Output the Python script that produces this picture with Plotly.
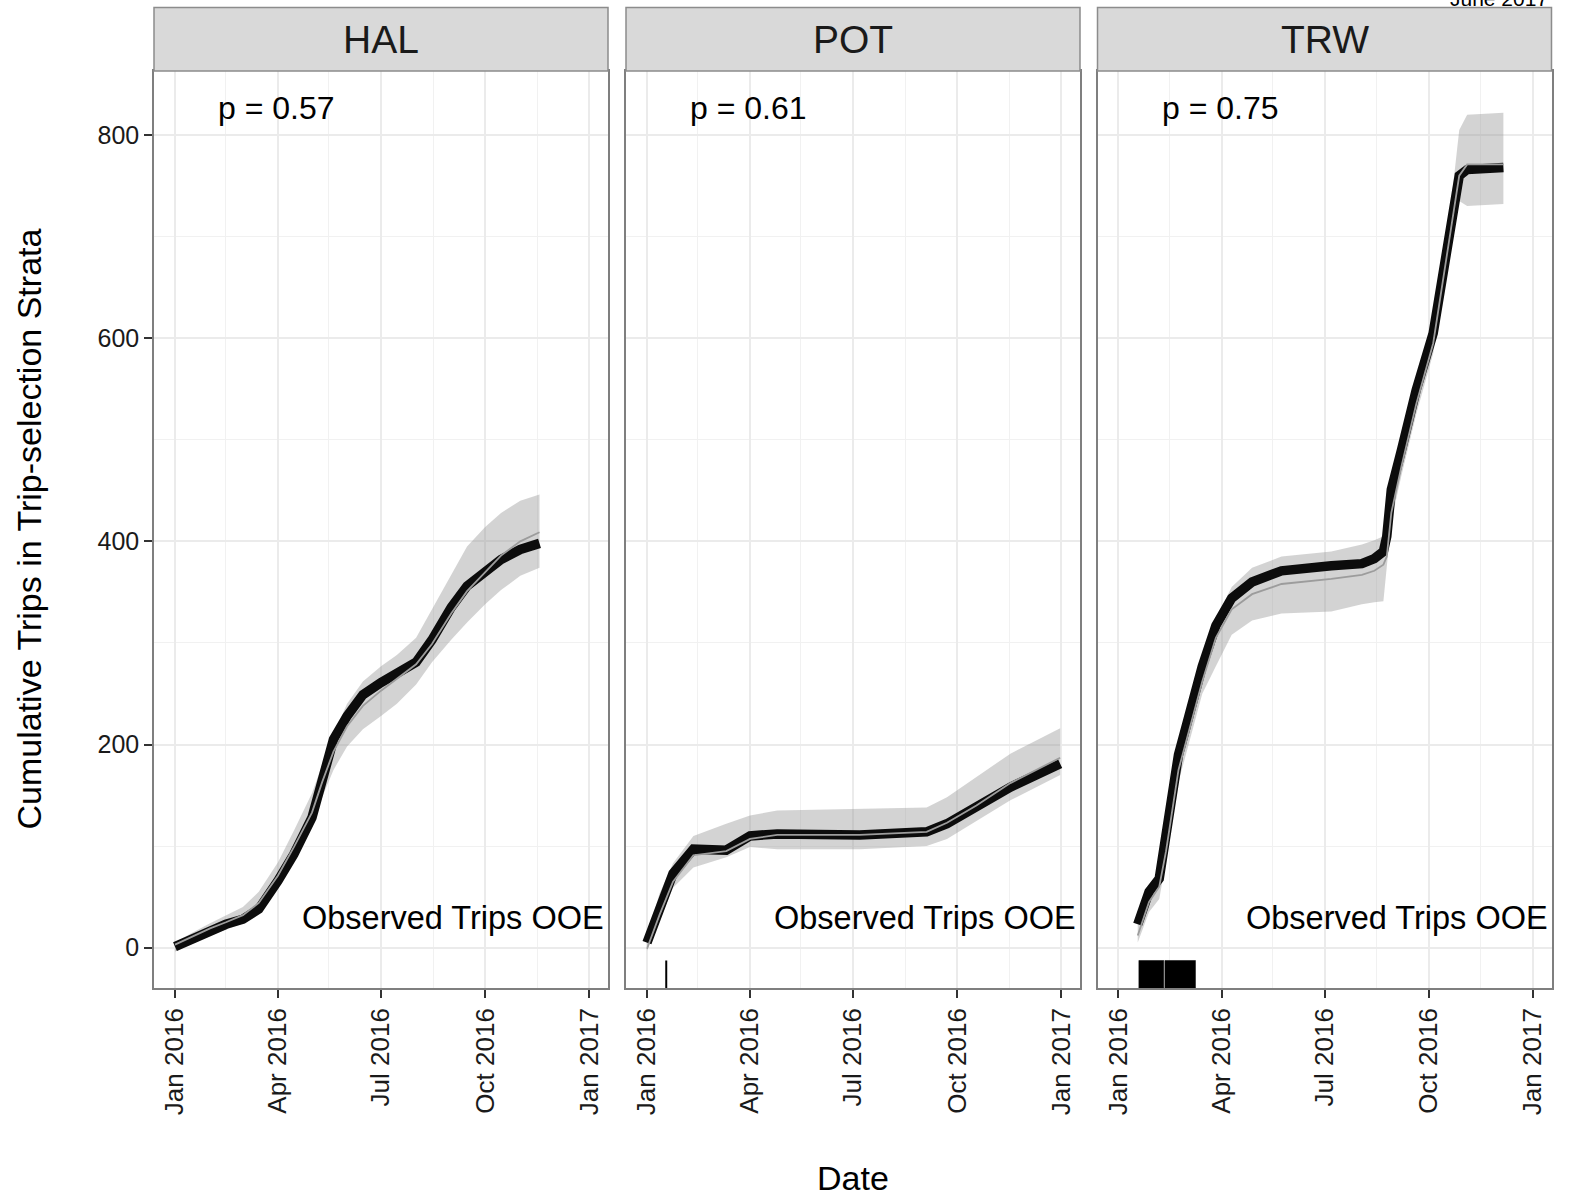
import plotly.graph_objects as go

# ---------------- data ----------------
panels = ["HAL", "POT", "TRW"]
p_labels = ["p = 0.57", "p = 0.61", "p = 0.75"]

hal_dates = ['2016-01-01','2016-01-15','2016-02-01','2016-02-15','2016-03-01','2016-03-15',
             '2016-04-01','2016-04-15','2016-05-01','2016-05-10','2016-05-20','2016-06-01',
             '2016-06-15','2016-07-01','2016-07-15','2016-08-01','2016-08-15','2016-09-01',
             '2016-09-15','2016-10-01','2016-10-15','2016-11-01','2016-11-18']
hal_obs   = [1, 8, 17, 23, 28, 38, 66, 92, 128, 165, 205, 228, 249, 261, 270, 281, 303, 335, 356, 370, 382, 392, 398]
hal_exp   = [3, 10, 19, 25, 32, 44, 71, 99, 133, 163, 193, 218, 238, 253, 265, 279, 299, 329, 351, 370, 386, 400, 409]
hal_upper = [5, 14, 24, 32, 40, 55, 84, 115, 152, 180, 210, 240, 262, 277, 288, 305, 333, 368, 395, 414, 428, 440, 446]
hal_lower = [-4, 4, 12, 18, 24, 34, 58, 86, 118, 148, 175, 198, 215, 228, 240, 259, 281, 303, 320, 338, 352, 366, 374]

pot_dates = ['2016-01-01','2016-01-12','2016-01-24','2016-02-11','2016-03-11','2016-04-01',
             '2016-04-25','2016-07-07','2016-09-04','2016-09-22','2016-10-18','2016-11-17','2016-12-31']
pot_obs   = [5, 40, 73, 97, 96, 110, 112, 111, 114, 122, 138, 158, 181]
pot_exp   = [-1, 32, 65, 91, 95, 107, 111, 111, 114, 123, 140, 162, 187]
pot_upper = [10, 53, 83, 110, 122, 130, 135, 137, 138, 148, 168, 191, 216]
pot_lower = [-3, 27, 59, 79, 89, 99, 97, 97, 100, 107, 125, 145, 170]

trw_dates = ['2016-01-18','2016-01-28','2016-02-06','2016-02-12','2016-02-23','2016-03-03',
             '2016-03-15','2016-03-27','2016-04-10','2016-04-28','2016-05-24','2016-07-07',
             '2016-08-03','2016-08-14','2016-08-22','2016-08-25','2016-08-29','2016-09-07',
             '2016-09-20','2016-10-05','2016-10-20','2016-10-28','2016-11-04','2016-12-06']
trw_obs   = [23, 55, 68, 109, 190, 227, 277, 317, 344, 360, 371, 376, 378, 383, 390, 405, 451, 490, 549, 605, 707, 760, 766, 768]
trw_exp   = [12, 45, 60, 95, 175, 212, 262, 305, 333, 348, 358, 363, 367, 371, 377, 385, 428, 474, 535, 595, 700, 760, 771, 771]
trw_upper = [32, 62, 75, 120, 197, 238, 283, 324, 355, 374, 385, 390, 397, 401, 405, 420, 455, 500, 560, 620, 725, 805, 820, 822]
trw_lower = [5, 35, 48, 85, 163, 200, 250, 277, 308, 322, 329, 331, 338, 340, 341, 375, 420, 465, 525, 585, 690, 735, 730, 732]

# observed-trip OOE rug marks (single dates and date intervals)
pot_ooe_dates = ['2016-01-18']
trw_ooe_spans = [('2016-01-19', '2016-02-10'), ('2016-02-11', '2016-03-09')]

x_tickvals = ['2016-01-01', '2016-04-01', '2016-07-01', '2016-10-01', '2017-01-01']
x_ticktext = ['Jan 2016', 'Apr 2016', 'Jul 2016', 'Oct 2016', 'Jan 2017']
x_minor = ['2016-02-15', '2016-05-16', '2016-08-16', '2016-11-16']
y_tickvals = [0, 200, 400, 600, 800]
y_minor = [100, 300, 500, 700]

series = {
    "HAL": (hal_dates, hal_obs, hal_exp, hal_upper, hal_lower),
    "POT": (pot_dates, pot_obs, pot_exp, pot_upper, pot_lower),
    "TRW": (trw_dates, trw_obs, trw_exp, trw_upper, trw_lower),
}

# ---------------- layout geometry ----------------
W, H = 1569, 1202
FONT = "Liberation Sans, Arial, sans-serif"
panel_px = [(154, 608), (626, 1080), (1097.5, 1551.5)]
plot_top, plot_bot = 71, 988
strip_top = 7.5
Y_RANGE = [-39.7, 863]
X_RANGE = ['2015-12-13 11:00', '2017-01-17 12:00']
rug_bottom = Y_RANGE[0]
rug_top = Y_RANGE[0] + 0.03 * (Y_RANGE[1] - Y_RANGE[0])

fig = go.Figure()
layout = dict(
    width=W, height=H,
    margin=dict(l=0, r=0, t=0, b=0),
    paper_bgcolor="white", plot_bgcolor="white",
    showlegend=False,
    font=dict(family=FONT, color="#1a1a1a"),
    shapes=[], annotations=[],
)

for i, name in enumerate(panels):
    sx = "" if i == 0 else str(i + 1)
    xa, ya = "x" + sx, "y" + sx
    dates, obs, exp, up, lo = series[name]

    # ribbon
    fig.add_trace(go.Scatter(x=dates, y=lo, mode="lines", line=dict(width=0),
                             xaxis=xa, yaxis=ya, hoverinfo="skip"))
    fig.add_trace(go.Scatter(x=dates, y=up, mode="lines", line=dict(width=0),
                             fill="tonexty", fillcolor="rgba(150,150,150,0.42)",
                             xaxis=xa, yaxis=ya, hoverinfo="skip"))
    # observed (thick black)
    fig.add_trace(go.Scatter(x=dates, y=obs, mode="lines",
                             line=dict(color="#0c0c0c", width=9.5),
                             xaxis=xa, yaxis=ya))
    # expected (thin grey)
    fig.add_trace(go.Scatter(x=dates, y=exp, mode="lines",
                             line=dict(color="#9c9c9c", width=1.8),
                             xaxis=xa, yaxis=ya))

    # rug marks
    if name == "POT":
        rx, ry = [], []
        for d in pot_ooe_dates:
            rx += [d, d, None]
            ry += [rug_bottom, rug_top, None]
        fig.add_trace(go.Scatter(x=rx, y=ry, mode="lines",
                                 line=dict(color="black", width=2),
                                 xaxis=xa, yaxis=ya))
    if name == "TRW":
        for a, b in trw_ooe_spans:
            fig.add_trace(go.Scatter(x=[a, b, b, a, a],
                                     y=[rug_bottom, rug_bottom, rug_top, rug_top, rug_bottom],
                                     mode="lines", fill="toself", fillcolor="black",
                                     line=dict(color="black", width=0.5),
                                     xaxis=xa, yaxis=ya))

    x0, x1 = panel_px[i]
    layout["xaxis" + sx] = dict(
        domain=[x0 / W, x1 / W], anchor=ya, range=X_RANGE, type="date",
        tickmode="array", tickvals=x_tickvals, ticktext=x_ticktext,
        tickangle=-90, tickfont=dict(size=26, color="#1a1a1a", family=FONT),
        ticks="outside", ticklen=8, tickwidth=2, tickcolor="#333333",
        showgrid=True, gridcolor="#ebebeb", gridwidth=1.6,
        minor=dict(tickvals=x_minor, showgrid=True, gridcolor="#f1f1f1",
                   gridwidth=1, ticks=""),
        showline=True, linecolor="#7f7f7f", linewidth=1.5, mirror=True,
        zeroline=False, fixedrange=True,
    )
    ydict = dict(
        domain=[(H - plot_bot) / H, (H - plot_top) / H], anchor=xa, range=Y_RANGE,
        tickmode="array", tickvals=y_tickvals,
        showgrid=True, gridcolor="#ebebeb", gridwidth=1.6,
        minor=dict(tickvals=y_minor, showgrid=True, gridcolor="#f1f1f1",
                   gridwidth=1, ticks=""),
        showline=True, linecolor="#7f7f7f", linewidth=1.5, mirror=True,
        zeroline=False, fixedrange=True,
    )
    if i == 0:
        ydict.update(ticks="outside", ticklen=8, tickwidth=2, tickcolor="#333333",
                     tickfont=dict(size=25, color="#1a1a1a", family=FONT))
    else:
        ydict.update(showticklabels=False, ticks="", matches="y")
    layout["yaxis" + sx] = ydict

    # strip header
    layout["shapes"].append(dict(
        type="rect", xref=xa + " domain", yref="paper",
        x0=0, x1=1, y0=(H - plot_top) / H, y1=(H - strip_top) / H,
        fillcolor="#d9d9d9", line=dict(color="#8c8c8c", width=1.5), layer="above"))
    layout["annotations"].append(dict(
        text=name, xref=xa + " domain", yref="paper", x=0.5,
        y=(H - (plot_top + strip_top) / 2) / H, xanchor="center", yanchor="middle",
        showarrow=False, font=dict(size=39, color="#1a1a1a", family=FONT)))
    # p value
    layout["annotations"].append(dict(
        text=p_labels[i], xref=xa, yref=ya, x='2016-03-31', y=827,
        xanchor="center", yanchor="middle", showarrow=False,
        font=dict(size=32, color="black", family=FONT)))
    # OOE label
    layout["annotations"].append(dict(
        text="Observed Trips OOE", xref=xa + " domain", yref=ya, x=1, xshift=-2,
        y=29.5, xanchor="right", yanchor="middle", showarrow=False,
        font=dict(size=32.5, color="black", family=FONT)))

# axis titles
layout["annotations"].append(dict(
    text="Cumulative Trips in Trip-selection Strata", xref="paper", yref="paper",
    x=28 / W, y=(H - (plot_top + plot_bot) / 2) / H, textangle=-90,
    xanchor="center", yanchor="middle", showarrow=False,
    font=dict(size=34, color="black", family=FONT)))
layout["annotations"].append(dict(
    text="Date", xref="paper", yref="paper",
    x=(panel_px[0][0] + panel_px[2][1]) / 2 / W, y=(H - 1178) / H,
    xanchor="center", yanchor="middle", showarrow=False,
    font=dict(size=34, color="black", family=FONT)))
layout["annotations"].append(dict(
    text="June 2017", xref="paper", yref="paper",
    x=1550 / W, y=(H - 12) / H, xanchor="right", yanchor="bottom",
    showarrow=False, font=dict(size=21, color="black", family=FONT)))

fig.update_layout(**layout)
# remove the browser's default 8px page margin so the figure sits at the window origin
fig.write_html("out.html", config={"displayModeBar": False},
               post_script="document.body.style.margin='0';")
